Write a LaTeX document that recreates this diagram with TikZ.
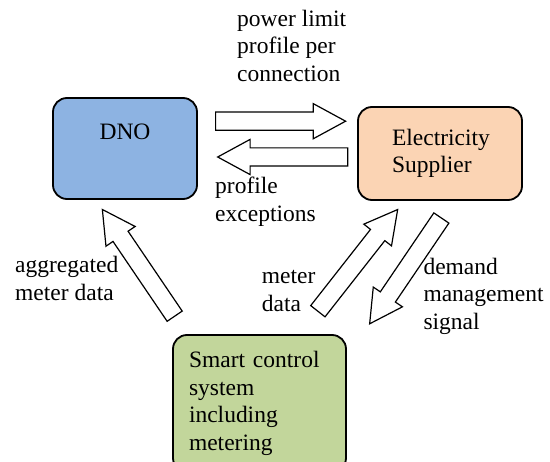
\documentclass[tikz,border=0pt]{standalone}
\usepackage{xcolor}
\usepackage{tikz}
\usepackage{fontspec}
\setmainfont{Liberation Serif}
\definecolor{dnoblue}{RGB}{141, 179, 226}
\definecolor{supplierpeach}{RGB}{251, 212, 180}
\definecolor{smartgreen}{RGB}{194, 214, 155}
\usetikzlibrary{shapes, arrows, positioning, calc}
\newcommand{\labelfont}{\fontsize{23.5}{27.5}\selectfont}
\newcommand{\blockarrow}[3]{%
    \path let \p1=(#2), \p2=(#3), \n1={atan2(\y2-\y1,\x2-\x1)}, \n2={veclen(\x2-\x1,\y2-\y1)} in
        node[flow, anchor=tail, rotate=\n1, minimum height=\n2] (#1) at (#2) {};}

\begin{document}
\begin{tikzpicture}[
    x=1pt, y=-1pt,
    box/.style={rectangle, draw=black, line width=1.8pt, rounded corners=14pt, font=\labelfont, inner ysep=0pt},
    boxtext/.style={align=left, execute at begin node=\strut, execute at end node=\strut},
    flow/.style={single arrow, draw=black, fill=white, line width=1.2pt, inner sep=0pt, minimum width=0pt, text height=8.5pt, text depth=8.5pt, single arrow head extend=8.5pt, single arrow tip angle=57},
    note/.style={font=\labelfont, align=left, inner sep=0pt, anchor=north west, execute at begin node=\strut}
]
    \useasboundingbox (0, 0) rectangle (550, 462);
    \clip (0, 0) rectangle (550, 462);

    % Boxes
    \node[box, fill=dnoblue, minimum width=144pt, inner xsep=0pt, text height=42pt, text depth=59pt, align=center] (dno) at (125, 148.5) {DNO};
    \node[box, boxtext, fill=supplierpeach, minimum height=93pt, text width=96pt, inner xsep=34pt] (supplier) at (440, 153.5) {Electricity\\Supplier};
    \node[box, boxtext, fill=smartgreen, minimum height=137pt, text width=141pt, inner xsep=16pt] (smart) at (259.5, 403.5) {Smart control\\system\\including\\metering};

    % Arrow ends
    \coordinate (limit-tail) at (215, 121.2);
    \coordinate (limit-tip) at (345, 121.2);
    \coordinate (exc-tail) at (348.3, 157);
    \coordinate (exc-tip) at (218.3, 157);
    \coordinate (agg-tail) at (175, 316.7);
    \coordinate (agg-tip) at (102.7, 210);
    \coordinate (meter-tail) at (317.5, 311.7);
    \coordinate (meter-tip) at (397.3, 210);
    \coordinate (demand-tail) at (441.7, 217.5);
    \coordinate (demand-tip) at (370, 323.3);

    % Arrows
    \blockarrow{limit}{limit-tail}{limit-tip}
    \blockarrow{exc}{exc-tail}{exc-tip}
    \blockarrow{agg}{agg-tail}{agg-tip}
    \blockarrow{meter}{meter-tail}{meter-tip}
    \blockarrow{demand}{demand-tail}{demand-tip}

    % Labels
    \node[note] (limit-label) at (237, 9.75) {power limit\\profile per\\connection};
    \node[note] (exc-label) at (215, 177.25) {profile\\exceptions};
    \node[note] (agg-label) at (15, 256.25) {aggregated\\meter data};
    \node[note] (meter-label) at (261.7, 270.25) {meter\\data};
    \node[note] (demand-label) at (423.3, 257.75) {demand\\management\\signal};
\end{tikzpicture}
\end{document}
